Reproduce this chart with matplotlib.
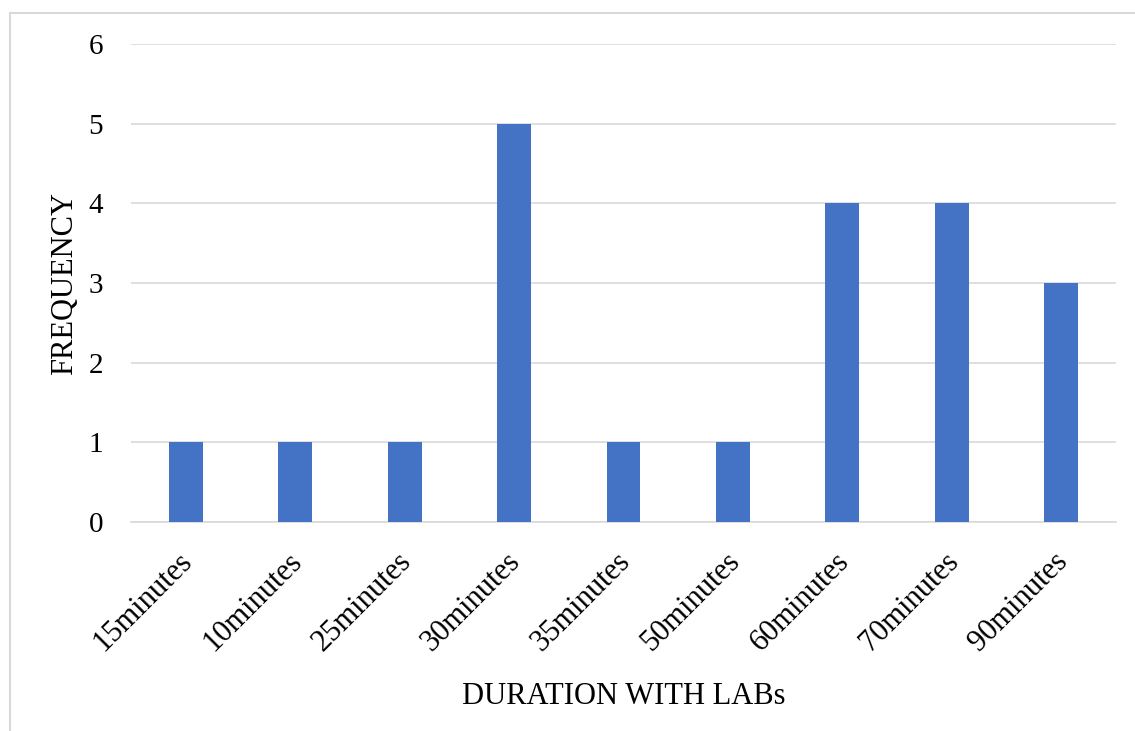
import matplotlib
import matplotlib.pyplot as plt
import matplotlib.transforms as mtransforms
from matplotlib.patches import Rectangle

matplotlib.use("Agg")

durations = ["15minutes", "10minutes", "25minutes", "30minutes", "35minutes",
             "50minutes", "60minutes", "70minutes", "90minutes"]
frequency = [1, 1, 1, 5, 1, 1, 4, 4, 3]

plt.rcParams["font.family"] = ["Liberation Serif", "DejaVu Serif"]

fig = plt.figure(figsize=(11.35, 7.31), dpi=100)
ax = fig.add_axes([0.1154, 0.2859, 0.8679, 0.6539])

# light frame around the chart area
fig.patches.append(Rectangle((0.0088, -0.05), 1.05, 0.05 + 0.982, transform=fig.transFigure,
                             fill=False, edgecolor="#d9d9d9", linewidth=1.5))

x = range(len(durations))
ax.bar(x, frequency, width=0.31, color="#4472C4", zorder=3)

ax.set_xlim(-0.5, len(durations) - 0.5)
ax.set_ylim(0, 6)
ax.set_yticks(range(0, 7))
ax.grid(axis="y", color="#d9d9d9", linewidth=1.2, zorder=0)
for side in ("top", "right", "left"):
    ax.spines[side].set_visible(False)
ax.spines["bottom"].set_color("#d9d9d9")
ax.spines["bottom"].set_linewidth(1.2)
ax.tick_params(axis="y", length=0, labelsize=21, pad=20)
ax.tick_params(axis="x", length=0, labelsize=22, pad=18)
ax.set_xticks(list(x))
ax.set_xticklabels(durations, rotation=45, ha="right", rotation_mode="anchor")

# nudge the slanted labels a little to the left
shift = mtransforms.ScaledTranslation(-8 / 100, 0, fig.dpi_scale_trans)
for lbl in ax.get_xticklabels():
    lbl.set_transform(lbl.get_transform() + shift)

ax.set_ylabel("FREQUENCY", fontsize=22, labelpad=7)
ax.set_xlabel("DURATION WITH LABs", fontsize=22, labelpad=18)

fig.savefig("out.png", dpi=100)
plt.close(fig)
